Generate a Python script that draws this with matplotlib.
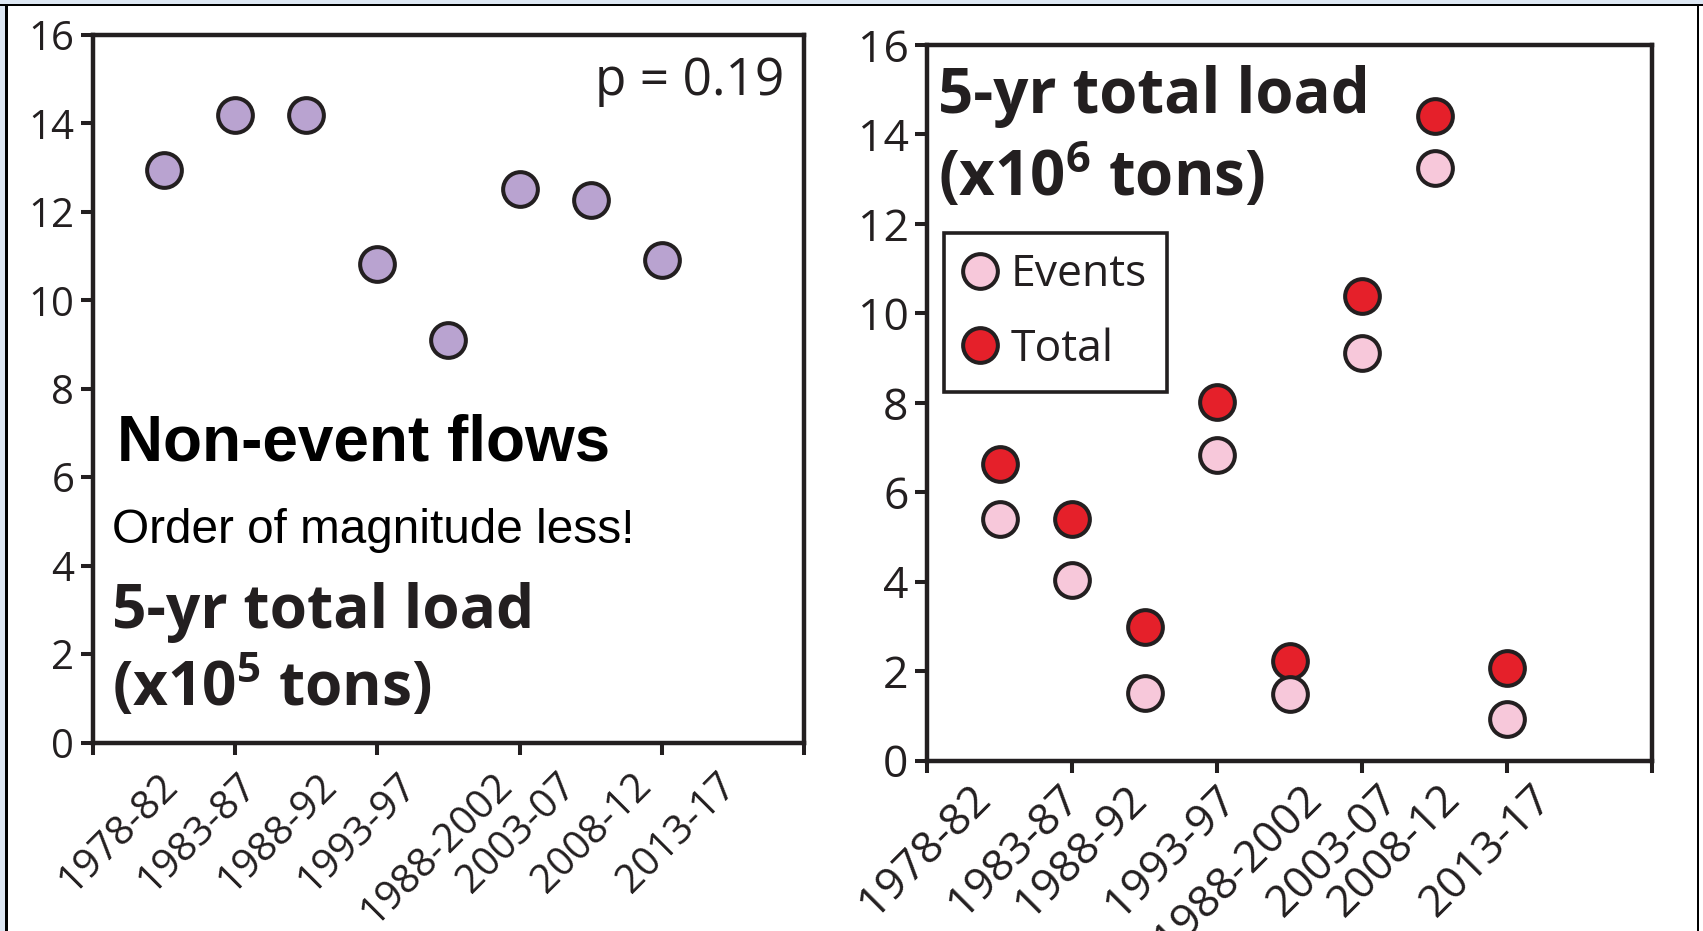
import matplotlib
matplotlib.use("Agg")
import matplotlib.pyplot as plt
from matplotlib.patches import Rectangle

# ---- data -------------------------------------------------------------
periods = ["1978-82", "1983-87", "1988-92", "1993-97",
           "1988-2002", "2003-07", "2008-12", "2013-17"]
slots = [1, 2, 3, 4, 5, 6, 7, 8]

non_event_load = [12.95, 14.2, 14.2, 10.83, 9.10, 12.52, 12.26, 10.91]   # x10^5 tons
events_load = [5.40, 4.04, 1.52, 6.83, 1.48, 9.12, 13.26, 0.93]         # x10^6 tons
total_load = [6.63, 5.40, 2.98, 8.02, 2.23, 10.38, 14.42, 2.07]         # x10^6 tons

y_ticks = [0, 2, 4, 6, 8, 10, 12, 14, 16]
x_major_ticks = [0, 2, 4, 6, 8, 10]

# ---- layout -------------------------------------------------------------
left_label_x = [1.21, 2.32, 3.45, 4.57, 5.91, 6.82, 7.88, 9.07]
right_label_x = [0.89, 2.12, 3.04, 4.28, 5.45, 6.52, 7.37, 8.64]

INK = "#231f20"
PURPLE = "#b9a3d0"
PINK = "#f7c8da"
RED = "#e5202a"
FRAME_BLUE = "#dde7f3"

plt.rcParams["font.family"] = ["Open Sans", "DejaVu Sans"]
plt.rcParams["mathtext.default"] = "regular"

W, H = 1703, 931
fig = plt.figure(figsize=(W / 100, H / 100), dpi=100)
fig.patch.set_facecolor("white")


def fig_rect(x0, y0, x1, y1, color):
    fig.add_artist(Rectangle((x0 / W, 1 - y1 / H), (x1 - x0) / W, (y1 - y0) / H,
                             transform=fig.transFigure, facecolor=color,
                             edgecolor="none", zorder=0))


# slide frame around the figure
fig_rect(0, 0, W, 3.5, FRAME_BLUE)
fig_rect(0, 0, 5, H, FRAME_BLUE)
fig_rect(0, 3.5, W, 6.2, "black")
fig_rect(5, 3.5, 8, H, "black")
fig_rect(1696.7, 3.5, 1699.3, H, "black")


def axes_px(left, top, right, bottom):
    return fig.add_axes([left / W, 1 - bottom / H, (right - left) / W, (bottom - top) / H])


def style_axes(ax, tick_size, label_x, label_size, label_pad):
    ax.set_xlim(0, 10)
    ax.set_ylim(0, 16)
    for s in ax.spines.values():
        s.set_linewidth(3.2)
        s.set_color(INK)
    ax.set_xticks(x_major_ticks)
    ax.set_xticklabels([])
    ax.set_yticks(y_ticks)
    ax.tick_params(which="major", direction="out", length=8.6, width=2.9,
                   color=INK, labelsize=tick_size, labelcolor=INK, pad=5)
    ax.set_xticks(label_x, periods, minor=True)
    ax.tick_params(axis="x", which="minor", length=0, pad=label_pad,
                   labelsize=label_size, labelcolor=INK)
    for t in ax.get_xticklabels(minor=True):
        t.set_rotation(45)
        t.set_horizontalalignment("right")
        t.set_verticalalignment("baseline")
        t.set_rotation_mode("anchor")
    ax.set_facecolor("white")


# ---- left panel: non-event flows ---------------------------------------
ax1 = axes_px(93.2, 35.0, 803.8, 742.5)
style_axes(ax1, 29, left_label_x, 29, 32)
ax1.plot(slots, non_event_load, "o", ls="none", ms=25, mfc=PURPLE, mec=INK,
         mew=2.9, clip_on=False, zorder=3)

ax1.text(0.972, 0.915, "p = 0.19", transform=ax1.transAxes, ha="right",
         va="baseline", fontsize=37, color=INK)
ax1.text(0.033, 0.399, "Non-event flows", transform=ax1.transAxes,
         ha="left", va="baseline", fontsize=46, fontweight="bold",
         family=["Liberation Sans", "DejaVu Sans"], color="black")
ax1.text(0.026, 0.2815, "Order of magnitude less!", transform=ax1.transAxes,
         ha="left", va="baseline", fontsize=34.4,
         family=["Liberation Sans", "DejaVu Sans"], color="black")
ax1.text(0.0265, 0.162, "5-yr total load", transform=ax1.transAxes,
         ha="left", va="baseline", fontsize=43.5, fontweight="bold", color=INK)
ax1.text(0.0265, 0.052, r"(x10$^{5}$ tons)", transform=ax1.transAxes,
         ha="left", va="baseline", fontsize=43.5, fontweight="bold", color=INK)

# ---- right panel: event and total loads --------------------------------
ax2 = axes_px(927.4, 45.0, 1652.4, 760.5)
style_axes(ax2, 32, right_label_x, 32, 28.8)
ax2.plot(slots, total_load, "o", ls="none", ms=25, mfc=RED, mec=INK,
         mew=2.9, clip_on=False, zorder=3, label="Total")
ax2.plot(slots, events_load, "o", ls="none", ms=25, mfc=PINK, mec=INK,
         mew=2.9, clip_on=False, zorder=4, label="Events")

ax2.text(0.0146, 0.905, "5-yr total load", transform=ax2.transAxes,
         ha="left", va="baseline", fontsize=44.5, fontweight="bold", color=INK)
ax2.text(0.0146, 0.789, r"(x10$^{6}$ tons)", transform=ax2.transAxes,
         ha="left", va="baseline", fontsize=44.5, fontweight="bold", color=INK)

handles, labels = ax2.get_legend_handles_labels()
leg = ax2.legend([handles[1], handles[0]], [labels[1], labels[0]],
                 loc="upper left", bbox_to_anchor=(0.0229, 0.7373),
                 borderaxespad=0, fontsize=32, frameon=True, fancybox=False,
                 edgecolor=INK, framealpha=1, borderpad=0.45,
                 handlelength=0.72, handletextpad=0.34, labelspacing=0.67,
                 numpoints=1)
leg.get_frame().set_linewidth(2.6)
for txt in leg.get_texts():
    txt.set_color(INK)

fig.savefig("out.png", dpi=100, facecolor="white")
